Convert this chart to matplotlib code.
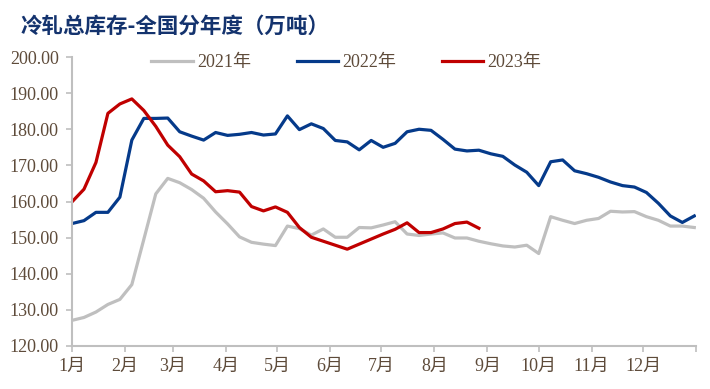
import matplotlib
matplotlib.use("Agg")
import matplotlib.pyplot as plt
import numpy as np

plt.rcParams['font.family'] = ['Liberation Serif', 'Noto Sans CJK SC', 'DejaVu Sans']

title = "冷轧总库存-全国分年度（万吨）"
series_names = ["2021年", "2022年", "2023年"]
month_labels = ["1月", "2月", "3月", "4月", "5月", "6月", "7月", "8月", "9月", "10月", "11月", "12月"]
month_start_days = [0, 31, 59, 90, 120, 151, 181, 212, 243, 273, 304, 334]

v2021 = [127.1, 127.9, 129.4, 131.5, 132.9, 137.0, 149.5, 162.1, 166.4, 165.2,
         163.3, 160.9, 157.1, 153.8, 150.2, 148.7, 148.2, 147.8, 153.2, 152.5,
         150.7, 152.4, 150.1, 150.1, 152.8, 152.7, 153.5, 154.4, 151.0, 150.6,
         151.0, 151.3, 149.9, 149.9, 149.0, 148.3, 147.7, 147.4, 147.9, 145.6,
         155.8, 154.8, 153.9, 154.8, 155.3, 157.3, 157.1, 157.2, 155.8, 154.8,
         153.2, 153.2, 152.8]
v2022 = [153.9, 154.7, 157.0, 157.0, 161.2, 177.0, 183.0, 183.0, 183.1, 179.3,
         178.1, 177.0, 179.1, 178.3, 178.6, 179.1, 178.4, 178.7, 183.7, 179.9,
         181.5, 180.2, 176.9, 176.5, 174.3, 176.9, 175.0, 176.1, 179.3, 180.0,
         179.7, 177.2, 174.5, 174.0, 174.2, 173.2, 172.5, 170.1, 168.1, 164.4,
         171.0, 171.5, 168.5, 167.7, 166.7, 165.4, 164.4, 164.0, 162.5, 159.5,
         156.0, 154.2, 156.0]
v2023 = [159.9, 163.4, 170.8, 184.4, 187.0, 188.4, 185.2, 180.8, 175.6, 172.4,
         167.6, 165.7, 162.7, 163.0, 162.6, 158.6, 157.4, 158.5, 157.0, 152.8,
         150.1, 149.0, 147.9, 146.8, 148.2, 149.6, 151.0, 152.3, 154.1, 151.4,
         151.4, 152.4, 153.9, 154.3, 152.6]

colors = ["#BFBFBF", "#053A8A", "#C00000"]
text_color = "#5e4b3a"
axis_color = "#BFBFBF"

fig = plt.figure(figsize=(7.10, 3.89), dpi=100)
ax = fig.add_axes([72/710, 1 - 346/389, (696-72)/710, (346-57)/389])

for vals, name, c in zip([v2021, v2022, v2023], series_names, colors):
    days = np.arange(len(vals)) * 7
    ax.plot(days, vals, color=c, lw=2.3, label=name, solid_joinstyle='round')

ax.set_xlim(0, 365)
ax.set_ylim(120, 200)
ax.set_yticks(np.arange(120, 201, 10))
ax.set_yticklabels([f"{v:.2f}" for v in np.arange(120, 201, 10)])
ax.set_xticks(month_start_days + [365])
ax.set_xticklabels(month_labels + [""])
ax.tick_params(axis='y', length=4.3, width=1.2, color=axis_color, pad=5.3,
               labelsize=13, labelcolor=text_color)
ax.tick_params(axis='x', length=4.5, width=1.2, color=axis_color, pad=4,
               labelsize=13, labelcolor=text_color)
for s in ['top', 'right']:
    ax.spines[s].set_visible(False)
for s in ['left', 'bottom']:
    ax.spines[s].set_color(axis_color)
    ax.spines[s].set_linewidth(1.5)

leg = ax.legend(loc='center', bbox_to_anchor=((346.5 - 72)/624, 1 - 6/289), ncol=3, frameon=False,
                fontsize=13, handlelength=2.3, handletextpad=0.25, columnspacing=2.5,
                borderaxespad=0)
for t in leg.get_texts():
    t.set_color(text_color)

fig.text(21/710, 1 - 26/389, title, fontsize=15.5, fontweight='bold', color="#14336E",
         va='center', ha='left', family=['Noto Sans CJK SC', 'DejaVu Sans'])

fig.savefig("out.png", dpi=100)
